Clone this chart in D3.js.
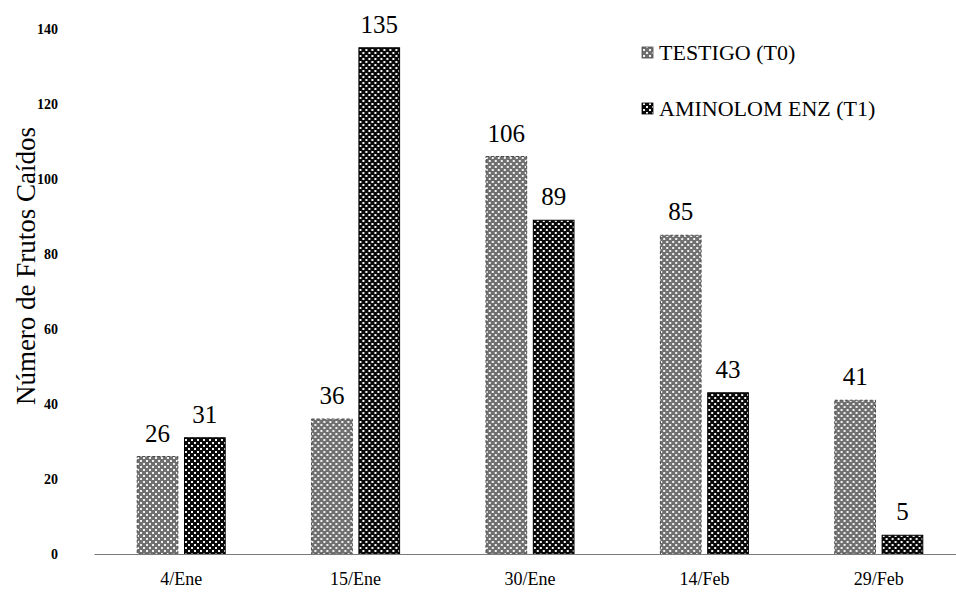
<!DOCTYPE html>
<html>
<head>
<meta charset="utf-8">
<script src="https://cdn.jsdelivr.net/npm/d3@7"></script>
<style>
  html, body { margin: 0; padding: 0; background: #fff; }
  svg { display: block; }
  svg text { font-family: "Liberation Serif", "Times New Roman", serif; }
</style>
</head>
<body>
<svg id="chart" width="956" height="595"></svg>
<script>
// Fallen fruit counts per sampling date, for two treatments
const categories = ["4/Ene", "15/Ene", "30/Ene", "14/Feb", "29/Feb"];
const seriesNames = ["TESTIGO (T0)", "AMINOLOM ENZ (T1)"];
const testigo = [26, 36, 106, 85, 41];
const aminolom = [31, 135, 89, 43, 5];
const yTicks = [0, 20, 40, 60, 80, 100, 120, 140];
const yTitle = "Número de Frutos Caídos";

const serif = "'Liberation Serif', 'Times New Roman', serif";
const seriesValues = [testigo, aminolom];
const rows = categories.map((c, i) => ({
  cat: c,
  vals: seriesNames.map((s, j) => ({ key: s, idx: j, value: seriesValues[j][i] }))
}));

const svg = d3.select("#chart");
const margin = { left: 94, right: -10, top: 29, bottom: 41 };
const W = 956, H = 595;
const plotRight = W - margin.right;

const y = d3.scaleLinear().domain([0, 140]).range([H - margin.bottom, margin.top]);
const x0 = d3.scaleBand().domain(categories).range([margin.left, plotRight]).padding(0);
const pairHalf = 44;
const x1 = d3.scaleBand().domain(seriesNames)
  .range([x0.bandwidth() / 2 - pairHalf, x0.bandwidth() / 2 + pairHalf])
  .paddingInner(0.14);

// Dotted fill patterns
const defs = svg.append("defs");
function dotPattern(id, bg, dot) {
  const p = defs.append("pattern").attr("id", id)
    .attr("patternUnits", "userSpaceOnUse").attr("width", 6).attr("height", 6);
  p.append("rect").attr("width", 6).attr("height", 6).attr("fill", bg);
  p.append("rect").attr("x", 1).attr("y", 1).attr("width", 2).attr("height", 2).attr("fill", dot);
  p.append("rect").attr("x", 4).attr("y", 4).attr("width", 2).attr("height", 2).attr("fill", dot);
}
dotPattern("pat-t0", "#707070", "#f0f0f0");
dotPattern("pat-t1", "#0a0a0a", "#f4f4f4");
const fills = ["url(#pat-t0)", "url(#pat-t1)"];
const strokes = ["#4a4a4a", "#000"];

// Y axis (labels only, no line)
const yAxis = svg.append("g").attr("transform", `translate(${margin.left},0)`)
  .call(d3.axisLeft(y).tickValues(yTicks).tickSize(0).tickPadding(36));
yAxis.select(".domain").remove();
yAxis.selectAll("text")
  .attr("font-family", serif)
  .attr("font-weight", "bold")
  .attr("font-size", 14)
  .attr("fill", "#000")
  .attr("dy", "0.35em");

// Y axis title
svg.append("text")
  .attr("transform", `translate(35, 266) rotate(-90)`)
  .attr("text-anchor", "middle")
  .attr("font-family", serif)
  .attr("font-size", 27)
  .attr("fill", "#000")
  .text(yTitle);

// Bars
const groups = svg.append("g").selectAll("g").data(rows).join("g")
  .attr("transform", d => `translate(${x0(d.cat)},0)`);

groups.selectAll("rect").data(d => d.vals).join("rect")
  .attr("x", d => x1(d.key))
  .attr("y", d => y(d.value))
  .attr("width", x1.bandwidth())
  .attr("height", d => y(0) - y(d.value))
  .attr("fill", d => fills[d.idx])
  .attr("stroke", d => strokes[d.idx])
  .attr("stroke-width", 1)
  .attr("stroke-dasharray", d => d.idx === 0 ? "3,2" : null);

// Value labels
groups.selectAll("text.val").data(d => d.vals).join("text")
  .attr("class", "val")
  .attr("x", d => x1(d.key) + x1.bandwidth() / 2)
  .attr("y", d => y(d.value) - 15)
  .attr("text-anchor", "middle")
  .attr("font-family", serif)
  .attr("font-size", 25)
  .attr("fill", "#000")
  .text(d => d.value);

// X axis baseline and labels
const xAxis = svg.append("g").attr("transform", `translate(0,${y(0)})`)
  .call(d3.axisBottom(x0).tickSize(0).tickPadding(18));
xAxis.select(".domain").attr("stroke", "#7a7a7a").attr("stroke-width", 1.2);
xAxis.selectAll("text")
  .attr("font-family", serif)
  .attr("font-size", 18)
  .attr("fill", "#000")
  .attr("dy", "0.71em");

// Legend
const legend = svg.append("g");
const legendY = [52, 108];
seriesNames.forEach((name, i) => {
  legend.append("rect")
    .attr("x", 642).attr("y", legendY[i] - 5)
    .attr("width", 11).attr("height", 11)
    .attr("fill", fills[i]).attr("stroke", strokes[i]).attr("stroke-width", 0.8);
  legend.append("text")
    .attr("x", 659).attr("y", legendY[i] + 7.5)
    .attr("font-family", serif)
    .attr("font-size", 22)
    .attr("fill", "#000")
    .text(name);
});
</script>
</body>
</html>
